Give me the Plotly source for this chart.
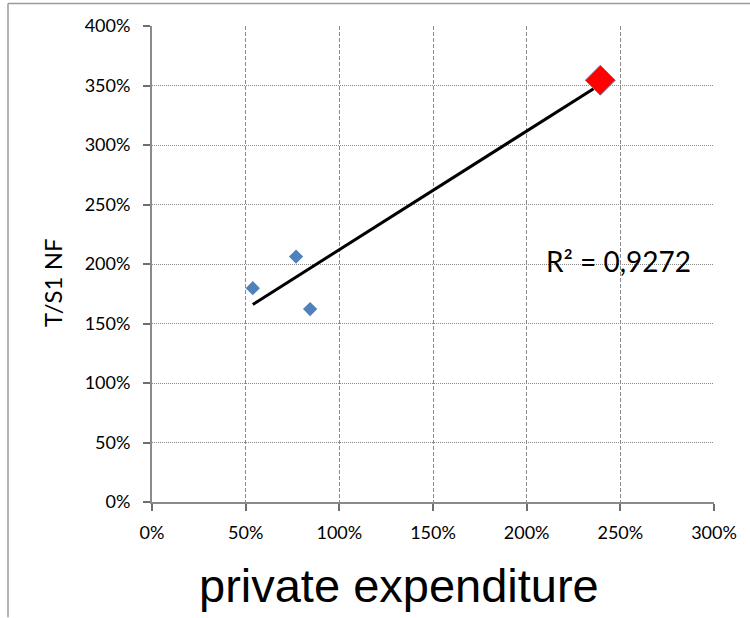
import numpy as np
import plotly.graph_objects as go

# Data (percent values)
x_blue = [53.8, 76.9, 84.4]
y_blue = [179.7, 206.2, 162.1]
x_red = [239.3]
y_red = [354.4]
x_ticks = [0, 50, 100, 150, 200, 250, 300]
x_tick_labels = ["0%", "50%", "100%", "150%", "200%", "250%", "300%"]
y_ticks = [0, 50, 100, 150, 200, 250, 300, 350, 400]
y_tick_labels = ["0%", "50%", "100%", "150%", "200%", "250%", "300%", "350%", "400%"]
r2_text = "R² = 0,9272"
x_title = "private expenditure"
y_title = "T/S1 NF"

W, H = 750, 618
ML, MR, MT, MB = 152, 36, 25.5, 115.5
PW, PH = W - ML - MR, H - MT - MB

xs_all = np.array(x_blue + x_red)
ys_all = np.array(y_blue + y_red)
slope, icpt = np.polyfit(xs_all, ys_all, 1)
tx = np.array([xs_all.min(), xs_all.max()])
ty = slope * tx + icpt

fig = go.Figure()
fig.add_trace(go.Scatter(x=tx, y=ty, mode="lines",
                         line=dict(color="black", width=3), showlegend=False))
fig.add_trace(go.Scatter(x=x_blue, y=y_blue, mode="markers",
                         marker=dict(symbol="diamond", size=11, color="#4F81BD",
                                     line=dict(width=0)), showlegend=False))
fig.add_trace(go.Scatter(x=x_red, y=y_red, mode="markers",
                         marker=dict(symbol="diamond", size=23, color="red",
                                     line=dict(width=1, color="#4F81BD")), showlegend=False))

grid_col = "#8a8a8a"
tick_col = "#6e6e6e"
tick_font = dict(family="Lato", size=18, color="black")
pad = "\u00a0"
fig.update_layout(
    xaxis=dict(range=[0, 300], tickmode="array", tickvals=x_ticks,
               ticktext=x_tick_labels,
               showgrid=True, gridcolor=grid_col, gridwidth=1, griddash="4px,2px",
               showline=True, linecolor=grid_col, linewidth=1.5,
               ticks="outside", ticklen=7, tickcolor=tick_col, tickwidth=2,
               ticklabelstandoff=7,
               zeroline=False, tickfont=tick_font, fixedrange=True),
    yaxis=dict(range=[0, 400], tickmode="array", tickvals=y_ticks,
               ticktext=[t + pad + pad for t in y_tick_labels],
               showgrid=True, gridcolor=grid_col, gridwidth=1, griddash="1px,1px",
               showline=True, linecolor=grid_col, linewidth=1.5,
               ticks="outside", ticklen=7, tickcolor=tick_col, tickwidth=2,
               zeroline=False, tickfont=tick_font, fixedrange=True),
)

def px_to_paper_x(px):
    return (px - ML) / PW

def px_to_paper_y(py):
    return (H - MB - py) / PH

annotations = [
    dict(text=r2_text, x=px_to_paper_x(618), y=px_to_paper_y(261), xref="paper", yref="paper",
         xanchor="center", yanchor="middle", showarrow=False,
         font=dict(family="Lato", size=28, color="black")),
    dict(text=x_title, x=px_to_paper_x(399), y=px_to_paper_y(586), xref="paper", yref="paper",
         xanchor="center", yanchor="middle",
         showarrow=False, font=dict(family="Liberation Sans", size=47, color="black")),
    dict(text=y_title, x=px_to_paper_x(53), y=px_to_paper_y(283), xref="paper", yref="paper",
         xanchor="center", yanchor="middle",
         showarrow=False, textangle=-90, font=dict(family="Lato", size=24, color="black")),
]

shapes = [
    dict(type="line", xref="paper", yref="paper",
         x0=px_to_paper_x(8), x1=px_to_paper_x(8), y0=px_to_paper_y(3), y1=px_to_paper_y(H),
         line=dict(color="#9a9a9a", width=1.5)),
    dict(type="line", xref="paper", yref="paper",
         x0=px_to_paper_x(8), x1=px_to_paper_x(W), y0=px_to_paper_y(3), y1=px_to_paper_y(3),
         line=dict(color="#9a9a9a", width=1.5)),
]

fig.update_layout(width=W, height=H, margin=dict(l=ML, r=MR, t=MT, b=MB),
                  plot_bgcolor="white", paper_bgcolor="white",
                  font=dict(family="Lato", color="black"),
                  annotations=annotations, shapes=shapes)
fig.write_html("out.html", config={"displayModeBar": False},
               post_script="document.body.style.margin='0';document.body.style.padding='0';")
